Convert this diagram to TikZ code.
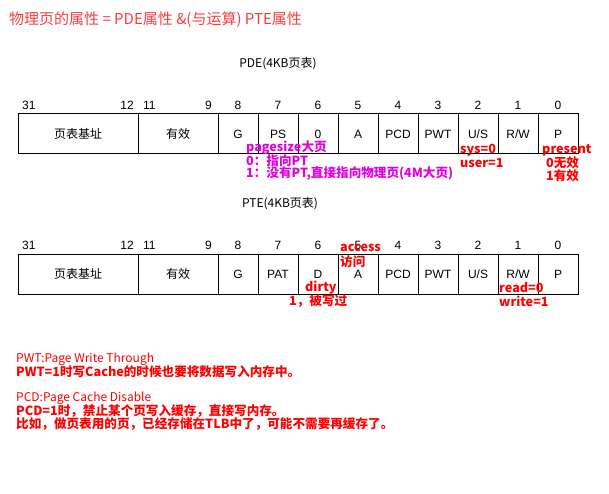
\documentclass[tikz,border=0pt]{standalone}
\usepackage{fontspec}
\setmainfont{Liberation Sans}
\newfontfamily\cjk{Noto Sans CJK SC}
\usetikzlibrary{positioning}
\definecolor{titlered}{RGB}{250,60,60}
\definecolor{notered}{RGB}{255,0,0}
\definecolor{notepink}{RGB}{225,0,225}
\tikzset{
  cell/.style={rectangle,draw,line width=1pt,minimum width=40pt,minimum height=40pt,inner sep=0pt,font=\fontsize{12}{14}\selectfont},
  bitno/.style={inner sep=0pt,font=\fontsize{12}{14}\selectfont},
  heading/.style={inner sep=0pt,font=\cjk\fontsize{12}{14}\selectfont},
  rnote/.style={inner sep=0pt,anchor=west,text=notered,font=\cjk\bfseries\fontsize{12.6}{13}\selectfont},
  pnote/.style={inner sep=0pt,anchor=west,text=notepink,font=\cjk\bfseries\fontsize{12.6}{13}\selectfont},
  plainnote/.style={inner sep=0pt,anchor=west,text=notered,font=\cjk\fontsize{12}{13}\selectfont}
}

\begin{document}
\begin{tikzpicture}[x=1pt,y=-1pt]
\useasboundingbox (0,0) rectangle (609,494);
% title
\node[inner sep=0pt,anchor=west,text=titlered,font=\cjk\fontsize{15}{18}\selectfont] (title) at (9,20) {物理页的属性 = PDE属性 \&(与运算) PTE属性};

% PDE
\node[heading] (pdehead) at (278,64) {PDE(4KB页表)};
\node[cell,minimum width=120pt] (pdebase) at (78,134) {\cjk 页表基址};
\node[cell,minimum width=80pt] (pdeavl) at (178,134) {\cjk 有效};
\foreach \b/\t in {8/G,7/PS,6/0,5/A,4/PCD,3/PWT,2/{U/S},1/{R/W},0/P}{
  \node[cell] (pde\b) at ({238+40*(8-\b)},134) {\t};
  \node[bitno] (pdeno\b) at ({238+40*(8-\b)},105) {\b};
}
\node[bitno,anchor=west] (pdeno31) at (22,105) {31};
\node[bitno,anchor=east] (pdeno12) at (134,105) {12};
\node[bitno,anchor=west] (pdeno11) at (143,105) {11};
\node[bitno,anchor=east] (pdeno9) at (212,105) {9};
% PDE notes
\node[pnote] (psnote) at (246,148) {pagesize大页};
\node[pnote] (psnote0) at (246,161) {0：指向PT};
\node[pnote] (psnote1) at (246,174) {1：没有PT,直接指向物理页(4M大页)};
\node[rnote] (usnote0) at (460,150) {sys=0};
\node[rnote] (usnote1) at (460,163) {user=1};
\node[rnote] (pnote0) at (542,150) {present};
\node[rnote] (pnote1) at (546,163) {0无效};
\node[rnote] (pnote2) at (546,176) {1有效};

% PTE
\node[heading] (ptehead) at (280,204) {PTE(4KB页表)};
\node[cell,minimum width=120pt] (ptebase) at (78,274) {\cjk 页表基址};
\node[cell,minimum width=80pt] (pteavl) at (178,274) {\cjk 有效};
\foreach \b/\t in {8/G,7/PAT,6/D,5/A,4/PCD,3/PWT,2/{U/S},1/{R/W},0/P}{
  \node[cell] (pte\b) at ({238+40*(8-\b)},274) {\t};
  \node[bitno] (pteno\b) at ({238+40*(8-\b)},245) {\b};
}
\node[bitno,anchor=west] (pteno31) at (22,245) {31};
\node[bitno,anchor=east] (pteno12) at (134,245) {12};
\node[bitno,anchor=west] (pteno11) at (143,245) {11};
\node[bitno,anchor=east] (pteno9) at (212,245) {9};
% PTE notes
\node[rnote] (anote0) at (340,248) {access};
\node[rnote] (anote1) at (340,262) {访问};
\node[rnote] (dnote0) at (305,288) {dirty};
\node[rnote] (dnote1) at (289,301) {1，被写过};
\node[rnote] (rwnote0) at (499,288) {read=0};
\node[rnote] (rwnote1) at (499,301) {write=1};

% remarks
\node[plainnote] (pwt0) at (16,359) {PWT:Page Write Through};
\node[rnote] (pwt1) at (16,372) {PWT=1时写Cache的时候也要将数据写入内存中。};
\node[plainnote] (pcd0) at (16,398) {PCD:Page Cache Disable};
\node[rnote] (pcd1) at (16,411) {PCD=1时，禁止某个页写入缓存，直接写内存。};
\node[rnote] (pcd2) at (16,424) {比如，做页表用的页，已经存储在TLB中了，可能不需要再缓存了。};
\end{tikzpicture}
\end{document}
